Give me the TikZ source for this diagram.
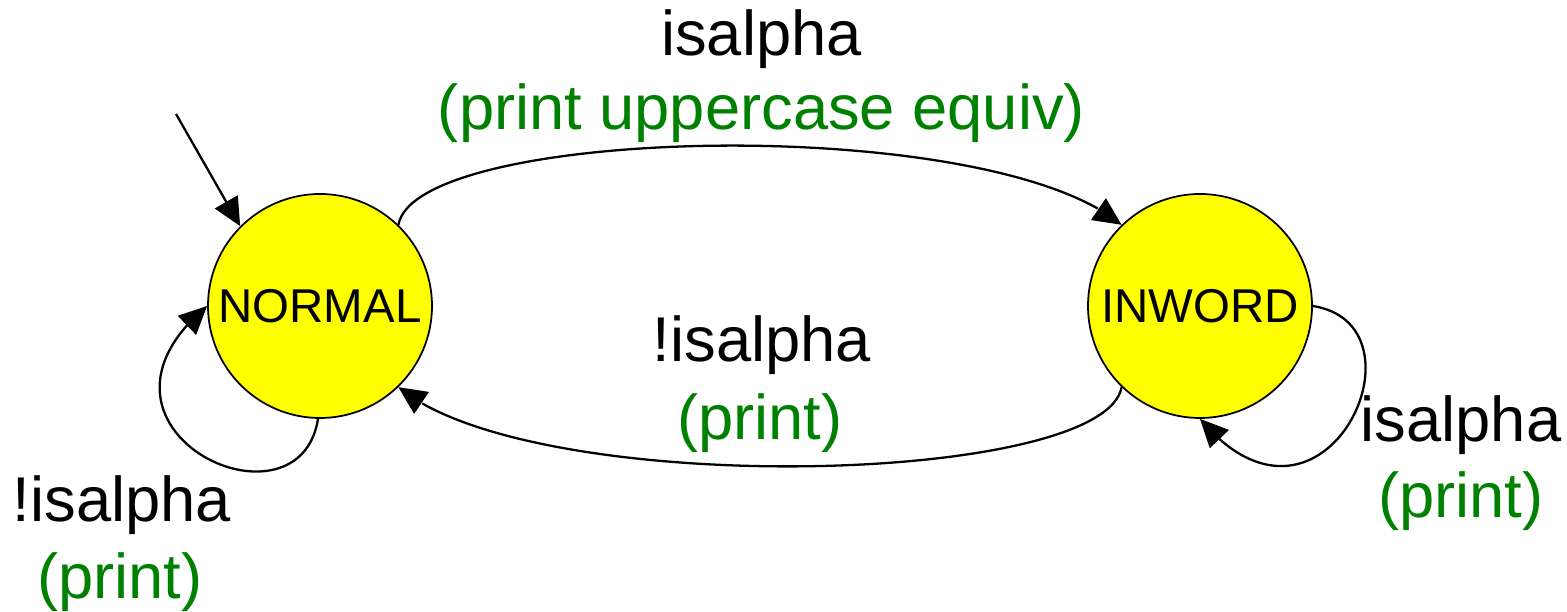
\documentclass[tikz,border=0pt]{standalone}
\usepackage{fontspec}
\setmainfont{Liberation Sans}
\usetikzlibrary{arrows.meta,bending}
\definecolor{actgreen}{RGB}{0,128,0}
\definecolor{statefill}{RGB}{255,255,0}

\begin{document}
\begin{tikzpicture}[
		statenode/.style={circle, draw, fill=statefill, line width=1pt, minimum size=4.48cm, inner sep=0pt, font=\fontsize{27}{32}\selectfont},
		trans/.style={line width=1.3pt, -{Triangle[length=0.56cm, width=0.52cm]}},
		lbl/.style={anchor=base, font=\fontsize{36}{43}\selectfont},
		act/.style={lbl, text=actgreen}
	]
	\def\loopout{2.47cm}
	\def\loopin{3.83cm}

	\useasboundingbox (0, 0) rectangle (31.34, 12.24);

	% States
	\node[statenode] (normal) at (6.40, 6.12) {NORMAL};
	\node[statenode] (inword) at (24.00, 6.12) {INWORD};

	% Start arrow
	\coordinate (init) at (3.52, 9.96);
	\draw[trans] (init) -- (normal.135);

	% Transitions between states
	\draw[trans] (normal.46) to[out=80, in=140, out distance=2cm, in distance=3.5cm] (inword.134);
	\draw[trans] (inword.226) to[out=260, in=320, out distance=2cm, in distance=3.5cm] (normal.314);

	% Self loops
	\draw[trans] (normal.269) to[out=261, in=220, out distance=\loopout, in distance=\loopin] (normal.180);
	\draw[trans] (inword.0) to[out=351, in=310, out distance=\loopout, in distance=\loopin] (inword.270);

	% Top labels
	\node[lbl] (lblgo) at (15.23, 11.12) {isalpha};
	\node[act] (actgo) at (15.23, 9.64) {(print uppercase equiv)};

	% Middle labels
	\node[lbl] (lblback) at (15.24, 5.00) {!isalpha};
	\node[act] (actback) at (15.20, 3.44) {(print)};

	% Loop labels
	\node[lbl] (lblnormal) at (2.44, 1.80) {!isalpha};
	\node[act] (actnormal) at (2.40, 0.26) {(print)};
	\node[lbl] (lblinword) at (29.22, 3.40) {isalpha};
	\node[act] (actinword) at (29.22, 1.88) {(print)};

\end{tikzpicture}
\end{document}
